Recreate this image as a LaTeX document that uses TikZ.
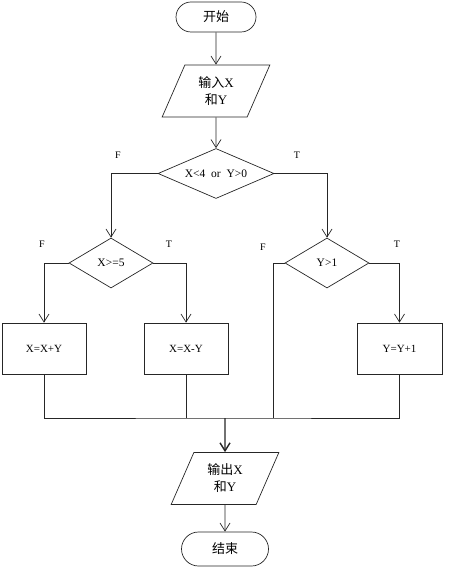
\documentclass[tikz,border=0pt]{standalone}
\usepackage{fontspec}
\setmainfont{Liberation Serif}
\newfontfamily\cjk{Noto Sans CJK SC}
\usetikzlibrary{shapes.geometric,shapes.misc,arrows.meta}

\begin{document}
\begin{tikzpicture}[x=1pt,y=1pt,>={Straight Barb[length=8pt,width=10pt]}]
\tikzstyle{every node}+=[inner sep=0pt]
\tikzstyle{term}=[draw,rounded rectangle,minimum width=80pt,minimum height=30pt,font=\fontsize{13}{16}\selectfont\cjk]
\tikzstyle{io}=[draw,trapezium,trapezium left angle=66,trapezium right angle=114,trapezium stretches=true,minimum width=108pt,minimum height=52pt,align=center,font=\fontsize{13}{17}\selectfont]
\tikzstyle{test}=[draw,diamond,aspect=2.3,minimum height=50pt,font=\fontsize{11.5}{13}\selectfont]
\tikzstyle{act}=[draw,rectangle,minimum width=84pt,minimum height=51pt,font=\fontsize{11}{13}\selectfont]
\tikzstyle{lab}=[font=\fontsize{10}{12}\selectfont]
\tikzstyle{line}=[draw,line width=0.7pt,black!85]
\useasboundingbox (0,0) rectangle (450,-569);
\begin{scope}[every node/.append style={line width=0.7pt,black!85,text=black}]
\node [term] (start) at (216,-17) {开始};
\node [io] (in) at (216,-91) {{\cjk 输入}X\\{\cjk 和}Y};
\node [test,minimum width=116pt] (d1) at (216,-173.5) {X<4~~or~~Y>0};
\node [test,minimum width=84pt] (d2) at (111,-263) {X>=5};
\node [test,minimum width=84pt] (d3) at (327,-263) {Y>1};
\node [act] (xa) at (44,-348.5) {X=X+Y};
\node [act] (xb) at (186,-348.5) {X=X-Y};
\node [act,minimum width=85pt] (yc) at (399.5,-348.5) {Y=Y+1};
\node [io] (out) at (225,-478.5) {{\cjk 输出}X\\{\cjk 和}Y};
\node [term,minimum width=87pt,minimum height=34pt] (end) at (225,-549) {结束};
\end{scope}
\coordinate (j) at (225,-418);
\coordinate (j2) at (273,-418);
% branch labels
\node [lab] (f1) at (118,-155) {F};
\node [lab] (t1) at (297,-155) {T};
\node [lab] (f2) at (42,-244) {F};
\node [lab] (t2) at (169,-244) {T};
\node [lab] (f3) at (263,-247) {F};
\node [lab] (t3) at (397,-244) {T};
% connectors
\draw [line,->] (start) -- (in);
\draw [line,->] (in) -- (d1);
\draw [line,->] (d1.west) -| (d2.north);
\draw [line,->] (d1.east) -| (d3.north);
\draw [line,->] (d2.west) -| (xa.north);
\draw [line,->] (d2.east) -| (xb.north);
\draw [line,->] (d3.east) -| (yc.north);
\draw [line] (xa.south) |- (j) -| (yc.south);
\draw [line] (xb.south) -- (xb.south |- j);
\draw [line] (d3.west) -| (j2);
\draw [line,line width=1.4pt,->] (j) -- (out);
\draw [line,->] (out) -- (end);
\end{tikzpicture}
\end{document}
